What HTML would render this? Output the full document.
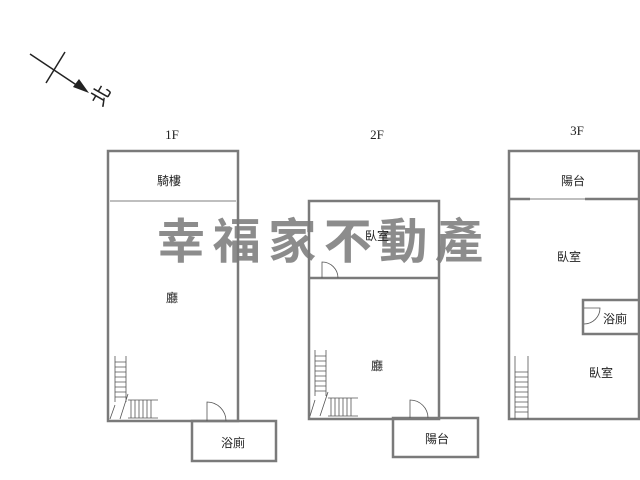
<!DOCTYPE html>
<html><head><meta charset="utf-8"><style>
html,body{margin:0;padding:0;background:#fff;width:640px;height:480px;overflow:hidden}
</style></head><body>
<svg width="640" height="480" viewBox="0 0 640 480" xmlns="http://www.w3.org/2000/svg" font-family="'Liberation Serif','Noto Serif CJK SC',serif">
<rect width="640" height="480" fill="#fff"/>
<!-- north arrow -->
<g stroke="#222" stroke-width="1.5" fill="none">
<line x1="30" y1="54" x2="78" y2="86"/>
<line x1="65" y1="52" x2="46" y2="83"/>
</g>
<polygon points="89,93 73,87 79,79" fill="#222"/>
<text x="0" y="0" font-size="20" fill="#222" font-family="'Noto Sans CJK TC',sans-serif" transform="translate(102,96) rotate(-60)" text-anchor="middle" dominant-baseline="middle">北</text>
<!-- floor labels -->
<g font-size="13" fill="#222" text-anchor="middle">
<text x="172" y="139">1F</text><text x="377" y="139">2F</text><text x="577" y="135">3F</text>
</g>
<!-- watermark -->
<text x="157" y="258" font-size="48" font-weight="bold" fill="#8c8c8c" textLength="326" lengthAdjust="spacing" font-family="'Noto Sans CJK TC','WenQuanYi Zen Hei',sans-serif">幸福家不動產</text>
<g fill="none" stroke="#7a7a7a" stroke-width="2.5">
<!-- 1F -->
<rect x="108" y="151" width="130" height="270"/>
<rect x="192" y="421" width="84" height="40"/>
<!-- 2F -->
<rect x="309" y="201" width="130" height="218"/>
<line x1="309" y1="278" x2="439" y2="278"/>
<rect x="393" y="418" width="85" height="39"/>
<!-- 3F -->
<rect x="509" y="151" width="130" height="268"/>
<line x1="509" y1="199" x2="530" y2="199"/>
<line x1="585" y1="199" x2="639" y2="199"/>
<polyline points="639,300 583,300 583,334 639,334"/>
</g>
<g fill="none" stroke="#555" stroke-width="0.8">
<line x1="110" y1="201" x2="236" y2="201"/>
<line x1="530" y1="199" x2="585" y2="199"/>
<!-- door arcs -->
<path d="M207,421 L207,402 A19,19 0 0 1 226,421"/>
<path d="M410,418 L410,400 A18,18 0 0 1 428,418"/>
<path d="M322,278 L322,262 A16,16 0 0 1 338,278"/>
<path d="M584,308 L600,308 A16,16 0 0 1 584,324"/>
<!-- stairs 1F -->
<path d="M115,356 v46 M126,356 v46 M115,405 l-5,14 M128,394 l-8,25"/>
<path d="M115,362h11M115,367h11M115,372h11M115,377h11M115,382h11M115,387h11M115,392h11M115,397h11"/>
<path d="M128,400h30M128,418h30M131,400v18M135,400v18M139,400v18M143,400v18M147,400v18M151,400v18"/>
<!-- stairs 2F -->
<path d="M315,350 v46 M326,350 v46 M315,400 l-5,16 M328,392 l-8,24"/>
<path d="M315,356h11M315,361h11M315,366h11M315,371h11M315,376h11M315,381h11M315,386h11M315,391h11"/>
<path d="M328,398h30M328,416h30M331,398v18M335,398v18M339,398v18M343,398v18M347,398v18M351,398v18"/>
<!-- stairs 3F -->
<path d="M515,356 v63 M528,356 v63"/>
<path d="M515,372h13M515,377h13M515,382h13M515,387h13M515,392h13M515,397h13M515,402h13M515,407h13M515,412h13"/>
</g>
<!-- room labels -->
<g font-size="12" fill="#222" text-anchor="middle" font-family="'Noto Sans CJK TC','WenQuanYi Zen Hei',sans-serif">
<text x="169" y="185">騎樓</text>
<text x="172" y="302">廳</text>
<text x="233" y="447">浴廁</text>
<text x="377" y="240">臥室</text>
<text x="377" y="370">廳</text>
<text x="437" y="443">陽台</text>
<text x="573" y="185">陽台</text>
<text x="569" y="261">臥室</text>
<text x="615" y="323">浴廁</text>
<text x="601" y="377">臥室</text>
</g>
</svg>
</body></html>
